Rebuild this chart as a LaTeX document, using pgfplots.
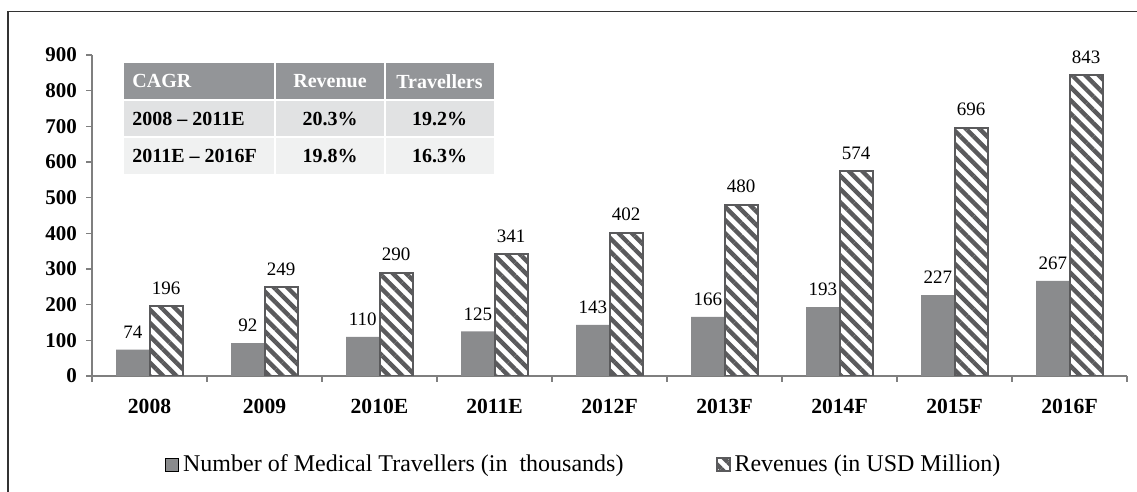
\documentclass[border=0pt]{standalone}
\usepackage{pgfplots}
\pgfplotsset{compat=1.18}
\usetikzlibrary{patterns.meta}
\usepackage{fontspec}
\setmainfont{Liberation Serif}
\definecolor{bardark}{HTML}{8A8B8D}
\definecolor{hatchc}{HTML}{5A5A5C}
\definecolor{axisgray}{HTML}{7F7F7F}
\definecolor{hdr}{HTML}{939598}
\definecolor{rowa}{HTML}{E1E2E3}
\definecolor{rowb}{HTML}{F0F1F1}
\begin{document}
\begin{tikzpicture}
\path[use as bounding box] (0,0) rectangle (568.5pt,246pt);
\draw[line width=0.6pt, black!80] (4pt,0) -- (4pt,240.25pt) -- (568.5pt,240.25pt);
\begin{axis}[
  at={(46pt,58pt)}, anchor=south west,
  scale only axis, width=517.5pt, height=160.5pt,
  xmin=-0.5, xmax=8.5, ymin=0, ymax=900,
  axis lines*=left,
  axis line style={draw=axisgray, line width=0.8pt},
  ybar=0pt, bar width=0.29,
  xtick={0,...,8},
  xticklabels={2008,2009,2010E,2011E,2012F,2013F,2014F,2015F,2016F},
  minor xtick={-0.5,0.5,...,8.5},
  ytick={0,100,...,900},
  tick align=outside,
  major tick length=3pt, minor tick length=3pt,
  major x tick style={draw=none},
  minor x tick style={draw=axisgray, line width=0.8pt},
  ytick style={draw=axisgray, line width=0.8pt},
  /pgf/number format/assume math mode=true,
  yticklabel style={font=\bfseries\fontsize{10.5}{12}\selectfont, xshift=-1pt},
  xticklabel style={font=\bfseries\fontsize{10.8}{12}\selectfont, yshift=-5pt},
  nodes near coords,
  nodes near coords style={font=\fontsize{9.5}{11}\selectfont, yshift=2pt, text=black},
  legend image code/.code={\draw[#1] (0pt,-3.25pt) rectangle (6.5pt,3.25pt);},
  legend style={at={(0.0705,-0.277)}, anchor=west, draw=none, fill=none,
    inner sep=0pt, font=\fontsize{12}{14}\selectfont,
    /tikz/every even column/.append style={column sep=44pt}},
  legend columns=2, legend cell align=left,
]
\addplot[fill=bardark, draw=none] coordinates {(0,74) (1,92) (2,110) (3,125) (4,143) (5,166) (6,193) (7,227) (8,267)};
\addlegendentry{Number of Medical Travellers (in~ thousands)}
\addplot[preaction={fill=white}, pattern={Lines[angle=-45,distance=4.7pt,line width=2.2pt]}, pattern color=hatchc, draw=hatchc, line width=1pt] coordinates {(0,196) (1,249) (2,290) (3,341) (4,402) (5,480) (6,574) (7,696) (8,843)};
\addlegendentry{Revenues (in USD Million)}
\end{axis}
% CAGR table
\fill[hdr] (62pt,196pt) rectangle (247pt,214.65pt);
\fill[rowa] (62pt,177.5pt) rectangle (247pt,196pt);
\fill[rowb] (62pt,159pt) rectangle (247pt,177.5pt);
\draw[white, line width=0.6pt] (62pt,196pt) -- (247pt,196pt) (62pt,177.5pt) -- (247pt,177.5pt)
  (137.5pt,159pt) -- (137.5pt,214.65pt) (192.5pt,159pt) -- (192.5pt,214.65pt);
\begin{scope}[every node/.style={font=\bfseries\fontsize{10}{12}\selectfont, inner sep=0pt}]
\node[anchor=west, text=white] at (66pt,205.3pt) {CAGR};
\node[text=white] at (165pt,205.3pt) {Revenue};
\node[text=white] at (219.75pt,205.3pt) {Travellers};
\node[anchor=west] at (66pt,186.75pt) {2008 – 2011E};
\node at (165pt,186.75pt) {20.3\%};
\node at (219.75pt,186.75pt) {19.2\%};
\node[anchor=west] at (66pt,168.25pt) {2011E – 2016F};
\node at (165pt,168.25pt) {19.8\%};
\node at (219.75pt,168.25pt) {16.3\%};
\end{scope}
\end{tikzpicture}
\end{document}
